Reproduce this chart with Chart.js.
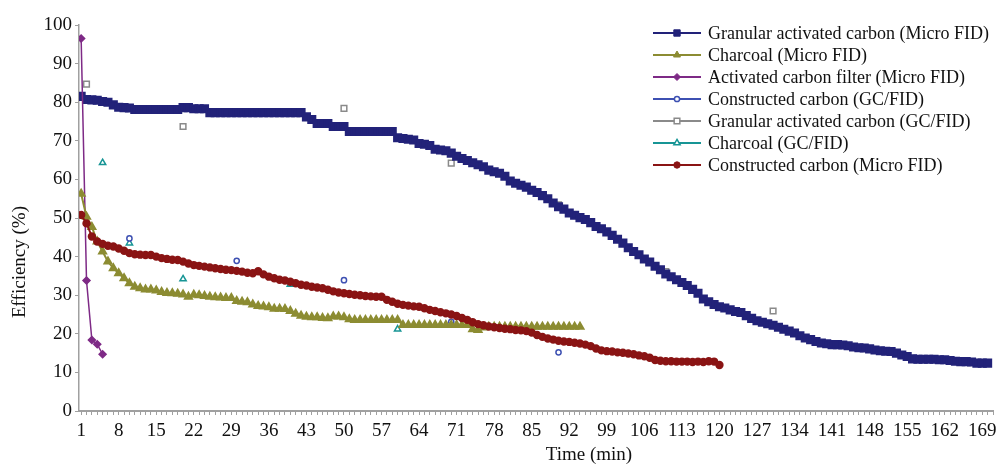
<!DOCTYPE html>
<html>
<head>
<meta charset="utf-8">
<script src="https://cdn.jsdelivr.net/npm/chart.js@4"></script>
<style>
  html, body { margin: 0; padding: 0; background: #fff; }
  #wrap { width: 1001px; height: 466px; position: relative; }
</style>
</head>
<body>
<div id="wrap"><canvas id="chart"></canvas></div>
<script>
// ----- data (minute index starts at 1) -----
const xTickLabels = [1, 8, 15, 22, 29, 36, 43, 50, 57, 64, 71, 78, 85, 92, 99, 106, 113, 120, 127, 134, 141, 148, 155, 162, 169];
const yTickLabels = [0, 10, 20, 30, 40, 50, 60, 70, 80, 90, 100];

// Granular activated carbon (Micro FID), minutes 1..170
const granularMicro = [
  81.5, 80.7, 80.6, 80.5, 80.2, 80.0, 79.3, 78.7, 78.6, 78.5,
  78.1, 78.1, 78.1, 78.1, 78.1, 78.1, 78.1, 78.1, 78.1, 78.6,
  78.6, 78.3, 78.3, 78.3, 77.3, 77.3, 77.3, 77.3, 77.3, 77.3,
  77.3, 77.3, 77.3, 77.3, 77.3, 77.3, 77.3, 77.3, 77.3, 77.3,
  77.3, 77.3, 76.2, 75.5, 74.5, 74.5, 74.5, 73.7, 73.7, 73.7,
  72.4, 72.4, 72.4, 72.4, 72.4, 72.4, 72.4, 72.4, 72.4, 70.8,
  70.6, 70.4, 70.2, 69.3, 69.1, 68.8, 67.8, 67.6, 67.4, 66.8,
  66.0, 65.4, 64.9, 64.3, 63.8, 63.3, 62.4, 62.0, 61.6, 60.8,
  59.6, 59.0, 58.5, 58.0, 57.2, 56.6, 55.8, 55.0, 53.9, 52.9,
  52.3, 51.3, 50.7, 50.1, 49.6, 48.8, 47.8, 47.2, 46.4, 45.5,
  44.5, 43.5, 42.3, 41.3, 40.5, 39.4, 38.6, 37.5, 36.6, 35.5,
  34.8, 34.0, 33.3, 32.5, 31.5, 30.5, 29.0, 28.3, 27.6, 27.0,
  26.7, 26.2, 25.8, 25.5, 24.7, 24.0, 23.4, 23.0, 22.6, 22.2,
  21.7, 21.2, 20.7, 20.2, 19.5, 18.9, 18.5, 18.0, 17.6, 17.4,
  17.2, 17.2, 17.1, 16.9, 16.6, 16.4, 16.3, 16.1, 15.8, 15.6,
  15.5, 15.4, 15.0, 14.5, 14.1, 13.5, 13.4, 13.4, 13.4, 13.4,
  13.3, 13.3, 13.1, 12.9, 12.8, 12.8, 12.7, 12.4, 12.4, 12.4
];

// Charcoal (Micro FID), minutes 1..94
const charcoalMicro = [
  56.3, 50.3, 47.7, 43.9, 41.3, 38.7, 37.0, 35.7, 34.4, 33.1,
  32.2, 31.8, 31.5, 31.5, 31.2, 30.8, 30.6, 30.5, 30.4, 30.2,
  29.6, 30.1, 30.0, 29.8, 29.6, 29.5, 29.4, 29.3, 29.3, 28.5,
  28.3, 28.2, 27.6, 27.2, 27.1, 26.9, 26.5, 26.5, 26.4, 25.9,
  25.2, 24.7, 24.4, 24.3, 24.3, 24.1, 24.0, 24.5, 24.5, 24.3,
  23.8, 23.6, 23.6, 23.6, 23.6, 23.6, 23.6, 23.6, 23.6, 23.6,
  22.3, 22.3, 22.3, 22.3, 22.3, 22.3, 22.3, 22.3, 22.3, 22.3,
  22.3, 22.3, 22.3, 21.2, 21.0, 21.6, 21.8, 21.8, 21.8, 21.8,
  21.8, 21.8, 21.8, 21.8, 21.8, 21.8, 21.8, 21.8, 21.8, 21.8,
  21.8, 21.8, 21.8, 21.8
];

// Activated carbon filter (Micro FID), minutes 1..5
const filterMicro = [96.5, 33.8, 18.4, 17.3, 14.7];

// Constructed carbon (Micro FID), minutes 1..120
const constructedMicro = [
  50.8, 48.6, 45.2, 43.9, 43.3, 42.8, 42.6, 42.1, 41.5, 40.9,
  40.6, 40.5, 40.4, 40.4, 40.0, 39.6, 39.4, 39.2, 39.1, 38.7,
  38.2, 37.8, 37.6, 37.4, 37.2, 37.0, 36.8, 36.6, 36.5, 36.3,
  36.1, 35.8, 35.7, 36.2, 35.4, 34.8, 34.4, 34.0, 33.8, 33.5,
  33.1, 32.7, 32.5, 32.2, 32.0, 31.8, 31.4, 31.0, 30.7, 30.5,
  30.3, 30.1, 30.0, 29.8, 29.7, 29.6, 29.6, 28.8, 28.3, 27.8,
  27.5, 27.3, 27.1, 27.0, 26.6, 26.2, 25.9, 25.6, 25.3, 25.0,
  24.6, 24.1, 23.6, 23.0, 22.5, 22.2, 21.9, 21.7, 21.5, 21.3,
  21.2, 21.0, 20.9, 20.7, 20.3, 19.7, 19.2, 18.8, 18.5, 18.2,
  18.0, 17.9, 17.7, 17.5, 17.2, 16.8, 16.2, 15.7, 15.5, 15.4,
  15.2, 15.1, 14.9, 14.7, 14.4, 14.2, 13.8, 13.2, 13.0, 12.9,
  12.9, 12.8, 12.8, 12.8, 12.7, 12.8, 12.7, 12.9, 12.8, 11.9
];

// GC/FID spot measurements
const gcConstructedTime = [10, 30, 50, 70, 90];
const gcConstructedEff  = [44.7, 38.9, 33.9, 23.1, 15.2];
const gcGranularTime = [2, 20, 50, 70, 90, 110, 130];
const gcGranularEff  = [84.7, 73.7, 78.4, 64.2, 53.4, 36.1, 25.9];
const gcCharcoalTime = [5, 10, 20, 40, 60];
const gcCharcoalEff  = [64.3, 43.5, 34.2, 32.8, 21.2];

const xMin = 0.6, xMax = 171;

// ----- helpers -----
const byMinute = arr => arr.map((v, i) => ({ x: i + 1, y: v }));
const pairs = (t, v) => t.map((m, i) => ({ x: m, y: v[i] }));

const FONT = '"Liberation Serif", "Times New Roman", serif';

// datasets (drawing order: lines first, GC markers on top)
const dsRed = {
  label: "Constructed carbon (Micro FID)", data: byMinute(constructedMicro),
  borderColor: "#8a1414", backgroundColor: "#8a1414", borderWidth: 2,
  pointStyle: "circle", pointRadius: 3.2
};
const dsOlive = {
  label: "Charcoal (Micro FID)", data: byMinute(charcoalMicro),
  borderColor: "#8c8c32", backgroundColor: "#8c8c32", borderWidth: 2,
  pointStyle: "triangle", pointRadius: 4
};
const dsPurple = {
  label: "Activated carbon filter (Micro FID)", data: byMinute(filterMicro),
  borderColor: "#7e2a86", backgroundColor: "#7e2a86", borderWidth: 1.5,
  pointStyle: "rectRot", pointRadius: 3.5
};
const dsNavy = {
  label: "Granular activated carbon (Micro FID)", data: byMinute(granularMicro),
  borderColor: "#222279", backgroundColor: "#222279", borderWidth: 2,
  pointStyle: "rect", pointRadius: 5
};
const dsGcCons = {
  label: "Constructed carbon (GC/FID)", data: pairs(gcConstructedTime, gcConstructedEff),
  borderColor: "#3d50b2", backgroundColor: "#ffffff", borderWidth: 1.5, showLine: false,
  pointStyle: "circle", pointRadius: 2.6, pointBorderWidth: 1.5
};
const dsGcGran = {
  label: "Granular activated carbon (GC/FID)", data: pairs(gcGranularTime, gcGranularEff),
  borderColor: "#8a8a8a", backgroundColor: "#ffffff", borderWidth: 1.5, showLine: false,
  pointStyle: "rect", pointRadius: 4, pointBorderWidth: 1.5
};
const dsGcChar = {
  label: "Charcoal (GC/FID)", data: pairs(gcCharcoalTime, gcCharcoalEff),
  borderColor: "#179595", backgroundColor: "#ffffff", borderWidth: 1.5, showLine: false,
  pointStyle: "triangle", pointRadius: 3.6, pointBorderWidth: 1.5
};

const legendOrder = [dsNavy, dsOlive, dsPurple, dsGcCons, dsGcGran, dsGcChar, dsRed];

// draw one marker like the ones on the chart
function marker(ctx, style, r, x, y) {
  ctx.beginPath();
  if (style === "rect") {
    const s = r * Math.SQRT1_2;
    ctx.rect(x - s, y - s, 2 * s, 2 * s);
  } else if (style === "rectRot") {
    ctx.moveTo(x, y - r); ctx.lineTo(x + r, y); ctx.lineTo(x, y + r); ctx.lineTo(x - r, y);
    ctx.closePath();
  } else if (style === "triangle") {
    ctx.moveTo(x, y - r);
    ctx.lineTo(x + r * 0.87, y + r * 0.5);
    ctx.lineTo(x - r * 0.87, y + r * 0.5);
    ctx.closePath();
  } else {
    ctx.arc(x, y, r, 0, Math.PI * 2);
  }
  ctx.fill();
  ctx.stroke();
}

// legend + axis titles, drawn on top
const overlay = {
  id: "overlay",
  afterDraw(chart) {
    const ctx = chart.ctx;
    ctx.save();
    ctx.fillStyle = "#111";
    ctx.font = "19px " + FONT;
    ctx.textAlign = "center";
    ctx.textBaseline = "middle";
    ctx.fillText("Time (min)", 589, 455);
    ctx.save();
    ctx.translate(20, 262);
    ctx.rotate(-Math.PI / 2);
    ctx.fillText("Efficiency (%)", 0, 0);
    ctx.restore();

    ctx.font = "18px " + FONT;
    ctx.textAlign = "left";
    legendOrder.forEach((ds, i) => {
      const y = 33 + i * 22;
      ctx.strokeStyle = ds.borderColor;
      ctx.lineWidth = 2;
      ctx.beginPath();
      ctx.moveTo(653, y); ctx.lineTo(701, y);
      ctx.stroke();
      ctx.fillStyle = ds.backgroundColor;
      ctx.lineWidth = ds.pointBorderWidth || 1;
      marker(ctx, ds.pointStyle, Math.min(ds.pointRadius, 4.5), 677, y);
      ctx.fillStyle = "#111";
      ctx.fillText(ds.label, 708, y + 1);
    });
    ctx.restore();
  }
};

const allMinutes = [];
for (let m = 1; m <= xMax; m++) allMinutes.push(m);

new Chart(document.getElementById("chart"), {
  type: "line",
  data: { datasets: [dsRed, dsOlive, dsPurple, dsNavy, dsGcCons, dsGcGran, dsGcChar] },
  options: {
    responsive: true,
    maintainAspectRatio: false,
    animation: false,
    layout: { padding: { left: 0, right: 8, top: 25, bottom: 0 } },
    plugins: { legend: { display: false }, tooltip: { enabled: false } },
    elements: { line: { tension: 0 } },
    scales: {
      x: {
        type: "linear", min: xMin, max: xMax,
        afterBuildTicks: axis => { axis.ticks = allMinutes.map(v => ({ value: v })); },
        afterFit: scale => { scale.height = 55; },
        ticks: {
          autoSkip: false, maxRotation: 0, padding: 5,
          color: "#111", font: { family: FONT, size: 19 },
          callback: v => xTickLabels.includes(v) ? String(v) : ""
        },
        grid: { drawOnChartArea: false, drawTicks: true, tickLength: 4, color: "#a0a0a0", lineWidth: 1 },
        border: { display: true, color: "#a0a0a0", width: 2 }
      },
      y: {
        min: 0, max: 100,
        afterBuildTicks: axis => { axis.ticks = yTickLabels.map(v => ({ value: v })); },
        afterFit: scale => { scale.width = 79; },
        ticks: { padding: 3, color: "#111", font: { family: FONT, size: 19 } },
        grid: { drawOnChartArea: false, drawTicks: true, tickLength: 4, color: "#a0a0a0" },
        border: { display: true, color: "#a0a0a0", width: 1.5 }
      }
    }
  },
  plugins: [overlay]
});
</script>
</body>
</html>
